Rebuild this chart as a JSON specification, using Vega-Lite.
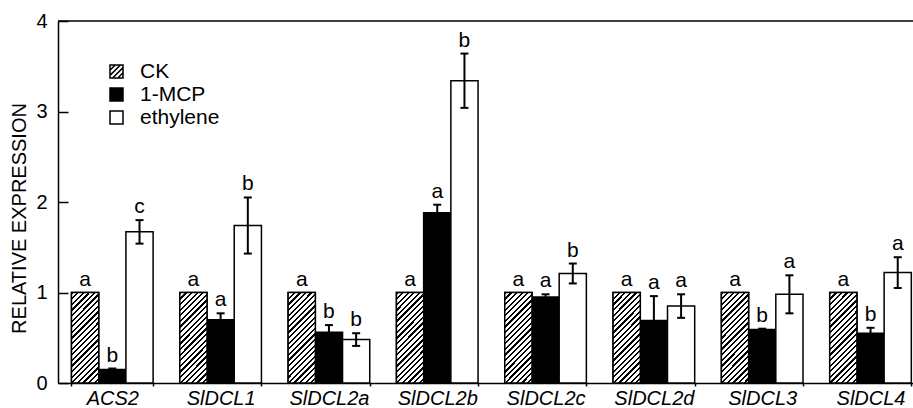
{
  "$schema": "https://vega.github.io/schema/vega-lite/v6.json",
  "width": 855,
  "height": 362,
  "autosize": {"type": "none"},
  "padding": {"left": 58, "top": 21, "right": 0, "bottom": 25},
  "background": "white",
  "config": {
    "view": {"stroke": null},
    "font": "Liberation Sans",
    "text": {"font": "Liberation Sans"}
  },
  "data": {
    "values": [
      {"gene": "ACS2", "treatment": "CK", "value": 1, "lo": 1, "hi": 1, "err": 0, "letter": "a"},
      {"gene": "ACS2", "treatment": "1-MCP", "value": 0.15, "lo": 0.14, "hi": 0.16, "err": 0.01, "letter": "b"},
      {"gene": "ACS2", "treatment": "ethylene", "value": 1.67, "lo": 1.54, "hi": 1.8, "err": 0.13, "letter": "c"},
      {"gene": "SlDCL1", "treatment": "CK", "value": 1, "lo": 1, "hi": 1, "err": 0, "letter": "a"},
      {"gene": "SlDCL1", "treatment": "1-MCP", "value": 0.7, "lo": 0.63, "hi": 0.77, "err": 0.07, "letter": "a"},
      {"gene": "SlDCL1", "treatment": "ethylene", "value": 1.74, "lo": 1.43, "hi": 2.05, "err": 0.31, "letter": "b"},
      {"gene": "SlDCL2a", "treatment": "CK", "value": 1, "lo": 1, "hi": 1, "err": 0, "letter": "a"},
      {"gene": "SlDCL2a", "treatment": "1-MCP", "value": 0.56, "lo": 0.48, "hi": 0.64, "err": 0.08, "letter": "b"},
      {"gene": "SlDCL2a", "treatment": "ethylene", "value": 0.48, "lo": 0.41, "hi": 0.55, "err": 0.07, "letter": "b"},
      {"gene": "SlDCL2b", "treatment": "CK", "value": 1, "lo": 1, "hi": 1, "err": 0, "letter": "a"},
      {"gene": "SlDCL2b", "treatment": "1-MCP", "value": 1.88, "lo": 1.79, "hi": 1.97, "err": 0.09, "letter": "a"},
      {"gene": "SlDCL2b", "treatment": "ethylene", "value": 3.34, "lo": 3.04, "hi": 3.64, "err": 0.3, "letter": "b"},
      {"gene": "SlDCL2c", "treatment": "CK", "value": 1, "lo": 1, "hi": 1, "err": 0, "letter": "a"},
      {"gene": "SlDCL2c", "treatment": "1-MCP", "value": 0.95, "lo": 0.92, "hi": 0.98, "err": 0.03, "letter": "a"},
      {"gene": "SlDCL2c", "treatment": "ethylene", "value": 1.21, "lo": 1.1, "hi": 1.32, "err": 0.11, "letter": "b"},
      {"gene": "SlDCL2d", "treatment": "CK", "value": 1, "lo": 1, "hi": 1, "err": 0, "letter": "a"},
      {"gene": "SlDCL2d", "treatment": "1-MCP", "value": 0.69, "lo": 0.42, "hi": 0.96, "err": 0.27, "letter": "a"},
      {"gene": "SlDCL2d", "treatment": "ethylene", "value": 0.85, "lo": 0.72, "hi": 0.98, "err": 0.13, "letter": "a"},
      {"gene": "SlDCL3", "treatment": "CK", "value": 1, "lo": 1, "hi": 1, "err": 0, "letter": "a"},
      {"gene": "SlDCL3", "treatment": "1-MCP", "value": 0.59, "lo": 0.58, "hi": 0.6, "err": 0.01, "letter": "b"},
      {"gene": "SlDCL3", "treatment": "ethylene", "value": 0.98, "lo": 0.77, "hi": 1.19, "err": 0.21, "letter": "a"},
      {"gene": "SlDCL4", "treatment": "CK", "value": 1, "lo": 1, "hi": 1, "err": 0, "letter": "a"},
      {"gene": "SlDCL4", "treatment": "1-MCP", "value": 0.55, "lo": 0.49, "hi": 0.61, "err": 0.06, "letter": "b"},
      {"gene": "SlDCL4", "treatment": "ethylene", "value": 1.22, "lo": 1.05, "hi": 1.39, "err": 0.17, "letter": "a"}
    ]
  },
  "layer": [
    {
      "mark": {"type": "bar", "stroke": "black", "strokeWidth": 1.5},
      "encoding": {
        "x": {
          "field": "gene", "type": "nominal", "sort": null,
          "scale": {"paddingInner": 0.2465, "paddingOuter": 0.07, "align": 0.89},
          "axis": {
            "title": null, "labelAngle": 0, "labelFontSize": 20, "labelFontStyle": "italic",
            "labelFont": "Liberation Sans", "labelColor": "black", "labelPadding": 2,
            "tickSize": 3, "tickBand": "extent", "tickColor": "black", "tickWidth": 1.5,
            "domainColor": "black", "domainWidth": 1.5
          }
        },
        "xOffset": {
          "field": "treatment", "sort": null,
          "scale": {"domain": ["CK", "1-MCP", "ethylene"], "paddingInner": 0, "paddingOuter": 0}
        },
        "y": {
          "field": "value", "type": "quantitative",
          "scale": {"domain": [0, 4], "nice": false, "zero": true},
          "axis": {
            "title": "RELATIVE EXPRESSION", "values": [0, 1, 2, 3, 4], "format": "d", "grid": false,
            "tickSize": -10, "labelPadding": 21, "labelFontSize": 20, "labelFont": "Liberation Sans",
            "labelColor": "black", "tickColor": "black", "tickWidth": 1.5,
            "domainColor": "black", "domainWidth": 1.5,
            "titleFontSize": 20, "titleFontWeight": "normal", "titleFont": "Liberation Sans",
            "titleColor": "black", "titleX": -33, "titleY": 197, "titleBaseline": "alphabetic",
            "titleAlign": "center"
          }
        },
        "fill": {
          "field": "treatment", "type": "nominal",
          "scale": {"domain": ["CK", "1-MCP", "ethylene"], "range": ["transparent", "black", "white"]},
          "legend": {
            "orient": "none", "legendX": 48, "legendY": 40, "title": null,
            "symbolType": "square", "symbolSize": 169, "symbolStrokeColor": "black",
            "symbolStrokeWidth": 1.5, "symbolOpacity": 1, "labelFontSize": 21, "labelFont": "Liberation Sans",
            "labelColor": "black", "labelOffset": 13, "rowPadding": 1, "padding": 0
          }
        }
      }
    },
    {
      "mark": {"type": "point", "opacity": 0, "size": 10},
      "encoding": {
        "x": {"field": "gene", "type": "nominal", "sort": null},
        "xOffset": {"field": "treatment", "sort": null},
        "y": {"field": "lo", "type": "quantitative"},
        "shape": {
          "field": "treatment", "type": "nominal",
          "scale": {
            "domain": ["CK", "1-MCP", "ethylene"],
            "range": ["M-1,-1H1V1H-1Z M-1,-0.2L-0.2,-1 M-1,0.6L0.6,-1 M-0.6,1L1,-0.6 M0.2,1L1,0.2", "square", "square"]
          },
          "legend": {
            "orient": "none", "legendX": 48, "legendY": 40, "title": null,
            "symbolSize": 169, "symbolStrokeColor": "black",
            "symbolStrokeWidth": 1.5, "symbolOpacity": 1, "labelFontSize": 21, "labelFont": "Liberation Sans",
            "labelColor": "black", "labelOffset": 13, "rowPadding": 1, "padding": 0
          }
        }
      }
    },
    {
      "transform": [{"filter": "datum.treatment === 'CK'"}],
      "mark": {
        "type": "bar", "stroke": "black", "strokeWidth": 1.5,
        "fill": {
          "gradient": "linear", "x1": 0, "y1": 0, "x2": 0.36, "y2": 1.193,
          "stops": [
            {"offset": 0, "color": "black"}, {"offset": 0.019, "color": "black"}, {"offset": 0.019, "color": "white"}, {"offset": 0.0476, "color": "white"},
            {"offset": 0.0476, "color": "black"}, {"offset": 0.0666, "color": "black"}, {"offset": 0.0666, "color": "white"}, {"offset": 0.0952, "color": "white"},
            {"offset": 0.0952, "color": "black"}, {"offset": 0.1142, "color": "black"}, {"offset": 0.1142, "color": "white"}, {"offset": 0.1429, "color": "white"},
            {"offset": 0.1429, "color": "black"}, {"offset": 0.1619, "color": "black"}, {"offset": 0.1619, "color": "white"}, {"offset": 0.1905, "color": "white"},
            {"offset": 0.1905, "color": "black"}, {"offset": 0.2095, "color": "black"}, {"offset": 0.2095, "color": "white"}, {"offset": 0.2381, "color": "white"},
            {"offset": 0.2381, "color": "black"}, {"offset": 0.2571, "color": "black"}, {"offset": 0.2571, "color": "white"}, {"offset": 0.2857, "color": "white"},
            {"offset": 0.2857, "color": "black"}, {"offset": 0.3047, "color": "black"}, {"offset": 0.3047, "color": "white"}, {"offset": 0.3333, "color": "white"},
            {"offset": 0.3333, "color": "black"}, {"offset": 0.3523, "color": "black"}, {"offset": 0.3523, "color": "white"}, {"offset": 0.381, "color": "white"},
            {"offset": 0.381, "color": "black"}, {"offset": 0.4, "color": "black"}, {"offset": 0.4, "color": "white"}, {"offset": 0.4286, "color": "white"},
            {"offset": 0.4286, "color": "black"}, {"offset": 0.4476, "color": "black"}, {"offset": 0.4476, "color": "white"}, {"offset": 0.4762, "color": "white"},
            {"offset": 0.4762, "color": "black"}, {"offset": 0.4952, "color": "black"}, {"offset": 0.4952, "color": "white"}, {"offset": 0.5238, "color": "white"},
            {"offset": 0.5238, "color": "black"}, {"offset": 0.5428, "color": "black"}, {"offset": 0.5428, "color": "white"}, {"offset": 0.5714, "color": "white"},
            {"offset": 0.5714, "color": "black"}, {"offset": 0.5904, "color": "black"}, {"offset": 0.5904, "color": "white"}, {"offset": 0.619, "color": "white"},
            {"offset": 0.619, "color": "black"}, {"offset": 0.638, "color": "black"}, {"offset": 0.638, "color": "white"}, {"offset": 0.6667, "color": "white"},
            {"offset": 0.6667, "color": "black"}, {"offset": 0.6857, "color": "black"}, {"offset": 0.6857, "color": "white"}, {"offset": 0.7143, "color": "white"},
            {"offset": 0.7143, "color": "black"}, {"offset": 0.7333, "color": "black"}, {"offset": 0.7333, "color": "white"}, {"offset": 0.7619, "color": "white"},
            {"offset": 0.7619, "color": "black"}, {"offset": 0.7809, "color": "black"}, {"offset": 0.7809, "color": "white"}, {"offset": 0.8095, "color": "white"},
            {"offset": 0.8095, "color": "black"}, {"offset": 0.8285, "color": "black"}, {"offset": 0.8285, "color": "white"}, {"offset": 0.8571, "color": "white"},
            {"offset": 0.8571, "color": "black"}, {"offset": 0.8761, "color": "black"}, {"offset": 0.8761, "color": "white"}, {"offset": 0.9048, "color": "white"},
            {"offset": 0.9048, "color": "black"}, {"offset": 0.9238, "color": "black"}, {"offset": 0.9238, "color": "white"}, {"offset": 0.9524, "color": "white"},
            {"offset": 0.9524, "color": "black"}, {"offset": 0.9714, "color": "black"}, {"offset": 0.9714, "color": "white"}, {"offset": 1, "color": "white"}
          ]
        }
      },
      "encoding": {
        "x": {"field": "gene", "type": "nominal", "sort": null},
        "xOffset": {"field": "treatment", "sort": null},
        "y": {"field": "value", "type": "quantitative"}
      }
    },
    {
      "transform": [{"filter": "datum.err > 0"}],
      "mark": {"type": "rule", "color": "black", "strokeWidth": 2},
      "encoding": {
        "x": {"field": "gene", "type": "nominal", "sort": null},
        "xOffset": {"field": "treatment", "sort": null},
        "y": {"field": "lo", "type": "quantitative"},
        "y2": {"field": "hi"}
      }
    },
    {
      "transform": [{"filter": "datum.err > 0"}],
      "mark": {"type": "tick", "orient": "horizontal", "color": "black", "size": 8, "thickness": 2, "opacity": 1},
      "encoding": {
        "x": {"field": "gene", "type": "nominal", "sort": null},
        "xOffset": {"field": "treatment", "sort": null},
        "y": {"field": "hi", "type": "quantitative"}
      }
    },
    {
      "transform": [{"filter": "datum.err > 0"}],
      "mark": {"type": "tick", "orient": "horizontal", "color": "black", "size": 8, "thickness": 2, "opacity": 1},
      "encoding": {
        "x": {"field": "gene", "type": "nominal", "sort": null},
        "xOffset": {"field": "treatment", "sort": null},
        "y": {"field": "lo", "type": "quantitative"}
      }
    },
    {
      "mark": {"type": "text", "baseline": "alphabetic", "dy": -7, "fontSize": 21, "font": "Liberation Sans", "color": "black"},
      "encoding": {
        "x": {"field": "gene", "type": "nominal", "sort": null},
        "xOffset": {"field": "treatment", "sort": null},
        "y": {"field": "hi", "type": "quantitative"},
        "text": {"field": "letter"}
      }
    },
    {
      "data": {"values": [{"top": 4}]},
      "mark": {"type": "rule", "color": "black", "strokeWidth": 1.5},
      "encoding": {
        "y": {"field": "top", "type": "quantitative"}
      }
    }
  ]
}
